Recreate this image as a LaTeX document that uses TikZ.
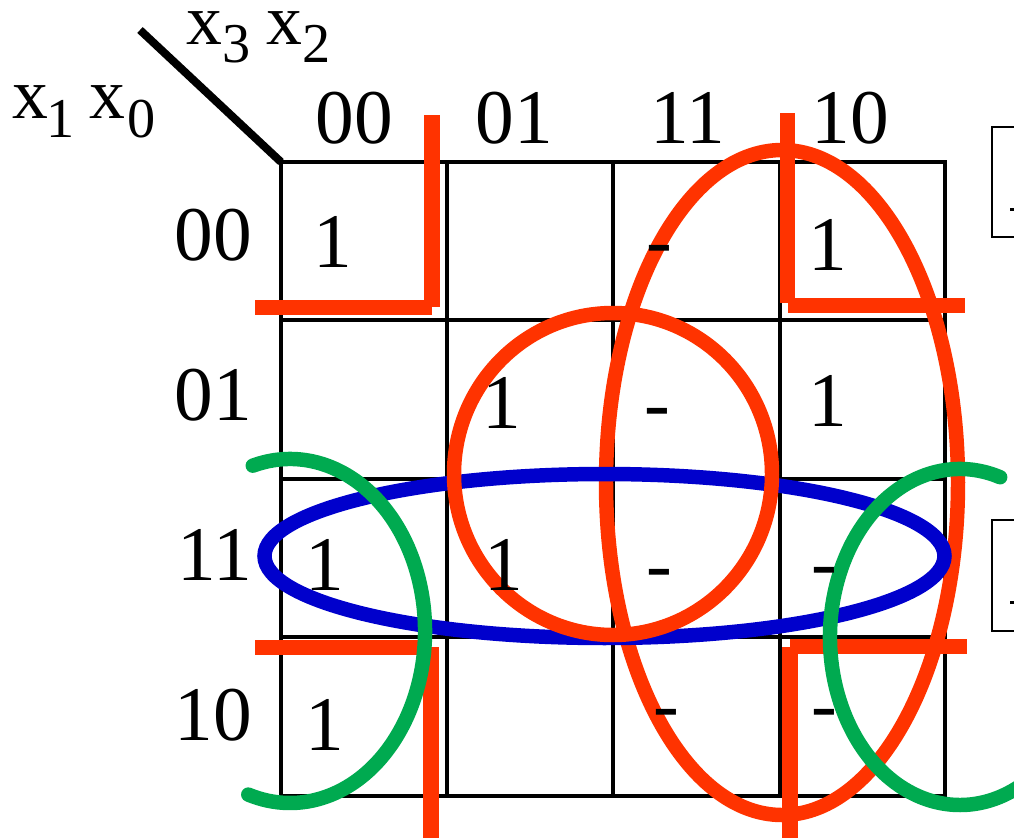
\documentclass[tikz,border=0pt]{standalone}
\usepackage{fontspec}
\setmainfont{Liberation Serif}
\definecolor{kred}{RGB}{255,51,0}
\definecolor{kblue}{RGB}{0,0,204}
\definecolor{kgreen}{RGB}{0,170,80}
\tikzset{
  big/.style={font=\fontsize{55}{60}\selectfont, inner sep=0pt, anchor=base},
  rowlab/.style={font=\fontsize{55}{60}\selectfont, inner sep=0pt, anchor=base east},
  varx/.style={font=\fontsize{51}{56}\selectfont, inner sep=0pt, anchor=base west},
  subs/.style={font=\fontsize{40}{44}\selectfont, inner sep=0pt, anchor=base west},
  gridline/.style={line width=3.5pt, black},
  loopline/.style={line width=10.3pt},
  corner/.style={line width=10.7pt, kred},
  sidebox/.style={line width=2.1pt, black},
}
\begin{document}
\begin{tikzpicture}[x=0.025cm, y=-0.025cm]
\useasboundingbox (0,0) rectangle (1014,837);
\clip (0,0) rectangle (1014,837);

% grid
\foreach \xx in {447,613,780} \draw[gridline] (\xx,162) -- (\xx,796);
\foreach \yy in {320,479,637} \draw[gridline] (281,\yy) -- (945,\yy);
\draw[gridline, line join=miter] (281,162) rectangle (945,796);

% diagonal
\coordinate (corner) at (281,162);
\coordinate (diagend) at (140,30);
\draw[line width=5.7pt] (diagend) -- (corner);

% side boxes (cut by the edge)
\draw[sidebox] (992,127) rectangle (1040,237);
\draw[sidebox] (992,520) rectangle (1040,631);
\fill (1010,207.5) rectangle (1015,210.5);
\fill (1010,600.5) rectangle (1015,603.5);

% red corner brackets
\draw[corner] (432,115) -- (432,307);
\draw[corner] (255,307.5) -- (432,307.5);
\draw[corner] (787.5,113) -- (787.5,303);
\draw[corner] (788,305.5) -- (965,305.5);
\draw[corner] (255,647.5) -- (431,647.5);
\draw[corner] (431,647) -- (431,840);
\draw[corner] (790,646.5) -- (967,646.5);
\draw[corner] (790,647) -- (790,840);

% loops
\draw[kred, loopline] (782,482.5) ellipse [x radius=176, y radius=332.5];
\draw[kblue, loopline] (604.5,556) ellipse [x radius=340, y radius=82];
\coordinate (gl) at (290,631);
\coordinate (gr) at (960,637);
\draw[kgreen, loopline, line cap=round] (gl) ++(-106:135 and 172)
  arc[start angle=-106, end angle=108, x radius=135, y radius=172];
\draw[kgreen, loopline, line cap=round] (gr) ++(-72:130 and 168)
  arc[start angle=-72, end angle=-300, x radius=130, y radius=168];
\draw[kred, loopline] (613,474) ellipse [x radius=159, y radius=161];

% variable labels
\node[varx] (xa) at (186,44) {x};
\node[subs] (sa) at (222,62) {3};
\node[varx] (xb) at (266,44) {x};
\node[subs] (sb) at (302,62) {2};
\node[varx] (xc) at (12,118) {x};
\node[subs] (sc) at (46,137) {1};
\node[varx] (xd) at (89,118) {x};
\node[subs] (sd) at (127,137) {0};

% column headers
\node[big] (h0) at (354,143) {00};
\node[big] (h1) at (514,143) {01};
\node[big] (h2) at (688,143) {11};
\node[big] (h3) at (850,143) {10};

% row labels
\node[rowlab] (r0) at (252,260) {00};
\node[rowlab] (r1) at (252,420) {01};
\node[rowlab] (r2) at (252,580) {11};
\node[rowlab] (r3) at (252,740) {10};

% cell entries
\node[big] (c00) at (333,267) {1};
\node[big] (c02) at (659,266) {-};
\node[big] (c03) at (828,270) {1};
\node[big] (c11) at (502,428) {1};
\node[big] (c12) at (657,429) {-};
\node[big] (c13) at (828,426) {1};
\node[big] (c20) at (325,590) {1};
\node[big] (c21) at (504,590) {1};
\node[big] (c22) at (659,590) {-};
\node[big] (c23) at (824,588) {-};
\node[big] (c30) at (325,750) {1};
\node[big] (c32) at (666,730) {-};
\node[big] (c33) at (824,730) {-};
\end{tikzpicture}
\end{document}
